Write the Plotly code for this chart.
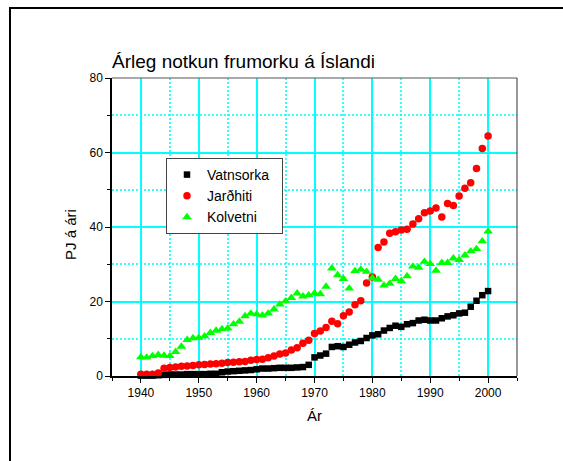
import plotly.graph_objects as go

years = list(range(1940, 2001))

vatnsorka = [0.1, 0.1, 0.1, 0.2, 0.3, 0.4, 0.4, 0.4, 0.5, 0.5,
             0.5, 0.5, 0.6, 0.6, 1.0, 1.2, 1.3, 1.4, 1.5, 1.6,
             1.8, 2.0, 2.0, 2.1, 2.2, 2.2, 2.2, 2.3, 2.4, 3.0,
             5.0, 5.5, 6.0, 7.8, 8.0, 7.8, 8.4, 9.0, 9.4, 10.2,
             10.9, 11.2, 12.2, 12.9, 13.5, 13.2, 13.9, 14.2, 14.9, 15.1,
             14.9, 14.9, 15.5, 16.0, 16.3, 16.8, 17.0, 18.6, 20.2, 21.7,
             22.8]

jardhiti = [0.5, 0.5, 0.5, 0.8, 2.1, 2.3, 2.4, 2.6, 2.7, 2.8,
            3.0, 3.1, 3.2, 3.3, 3.4, 3.6, 3.7, 3.8, 3.9, 4.2,
            4.4, 4.5, 4.9, 5.4, 5.9, 6.2, 7.0, 7.6, 8.8, 9.6,
            11.4, 12.1, 13.0, 14.7, 14.0, 16.2, 17.2, 19.1, 20.2, 25.0,
            26.6, 34.5, 36.0, 38.3, 38.7, 39.2, 39.4, 40.8, 42.2, 43.8,
            44.3, 45.1, 42.7, 46.3, 45.8, 48.3, 50.4, 51.9, 55.7, 61.1,
            64.4]

kolvetni = [5.1, 5.0, 5.4, 5.7, 5.5, 5.4, 6.5, 7.9, 9.7, 10.2,
            10.3, 10.7, 11.6, 12.2, 12.6, 12.8, 13.9, 14.6, 16.1, 16.8,
            16.6, 16.3, 16.8, 17.9, 19.2, 20.1, 21.0, 22.2, 21.4, 21.7,
            22.2, 22.0, 24.0, 28.9, 27.1, 26.1, 23.5, 28.2, 28.6, 28.0,
            26.3, 25.9, 24.3, 24.8, 26.1, 25.5, 26.8, 29.4, 29.1, 30.7,
            30.1, 28.3, 30.4, 30.4, 31.6, 31.2, 32.4, 33.5, 34.1, 36.2,
            38.8]

title_text = "Árleg notkun frumorku á Íslandi"
x_title = "Ár"
y_title = "PJ á ári"
names = ["Vatnsorka", "Jarðhiti", "Kolvetni"]

FONT = "Arial, 'Liberation Sans', sans-serif"
CYAN = "#00FFFF"
W, H = 563, 461
L, R, T, B = 112, 46, 78, 85
pw, ph = W - L - R, H - T - B


def px(x):
    return (x - L) / pw


def py(y):
    return (H - B - y) / ph


fig = go.Figure()
fig.add_trace(go.Scatter(x=years, y=vatnsorka, mode="markers", name=names[0] + "\u00a0\u00a0",
                         marker=dict(symbol="square", size=6.5, color="black"),
                         cliponaxis=False))
fig.add_trace(go.Scatter(x=years, y=jardhiti, mode="markers", name=names[1],
                         marker=dict(symbol="circle", size=7.5, color="#FF0000"),
                         cliponaxis=False))
fig.add_trace(go.Scatter(x=years, y=kolvetni, mode="markers", name=names[2],
                         marker=dict(symbol="triangle-up", size=8.5, color="#00FF00"),
                         cliponaxis=False))

axis_common = dict(
    showline=True, linecolor="black", linewidth=1.5,
    ticks="outside", ticklen=5, tickwidth=1, tickcolor="black",
    showgrid=True, gridcolor=CYAN,
    zeroline=False,
    tickfont=dict(family=FONT, size=12, color="black"),
)

minor_common = dict(showgrid=True, gridcolor="rgba(0,255,255,0.8)", griddash="2px,2px",
                    gridwidth=1.5,
                    ticks="outside", ticklen=3, tickcolor="black", tickwidth=1)

fig.update_xaxes(range=[1935, 2005], dtick=10, tick0=1940, gridwidth=1.5,
                 minor=dict(dtick=5, tick0=1935, **minor_common),
                 **axis_common)
fig.update_yaxes(range=[0, 80], dtick=20, tick0=0, gridwidth=2,
                 minor=dict(dtick=10, tick0=0, **minor_common),
                 **axis_common)

shapes = [
    # top and right plot border
    dict(type="line", xref="paper", yref="paper", x0=0, x1=1, y0=1, y1=1,
         line=dict(color="#555555", width=1)),
    dict(type="line", xref="paper", yref="paper", x0=1, x1=1, y0=0, y1=1,
         line=dict(color="#333333", width=1)),
    # outer frame (top and left)
    dict(type="line", xref="paper", yref="paper", x0=px(9), x1=px(575), y0=py(8), y1=py(8),
         line=dict(color="black", width=2)),
    dict(type="line", xref="paper", yref="paper", x0=px(10), x1=px(10), y0=py(7), y1=py(475),
         line=dict(color="black", width=2)),
]

annotations = [
    dict(text=x_title, xref="paper", yref="paper", x=0.5, y=py(415),
         xanchor="center", yanchor="middle", showarrow=False,
         font=dict(family=FONT, size=15, color="black")),
    dict(text=y_title, xref="paper", yref="paper", x=px(70), y=py(235),
         xanchor="center", yanchor="middle", showarrow=False, textangle=-90,
         font=dict(family=FONT, size=15, color="black")),
]

fig.update_layout(
    width=W, height=H,
    margin=dict(l=L, r=R, t=T, b=B, pad=0),
    paper_bgcolor="white", plot_bgcolor="white",
    title=dict(text=title_text, xref="paper", x=0, xanchor="left",
               yref="container", y=1 - 61 / H, yanchor="middle",
               font=dict(family=FONT, size=19, color="black")),
    showlegend=True,
    legend=dict(x=px(166), y=py(158), xanchor="left", yanchor="top",
                bgcolor="white", bordercolor="#444444", borderwidth=1,
                font=dict(family=FONT, size=14, color="black"),
                tracegroupgap=0),
    shapes=shapes,
    annotations=annotations,
)

fig.write_html("out.html")
